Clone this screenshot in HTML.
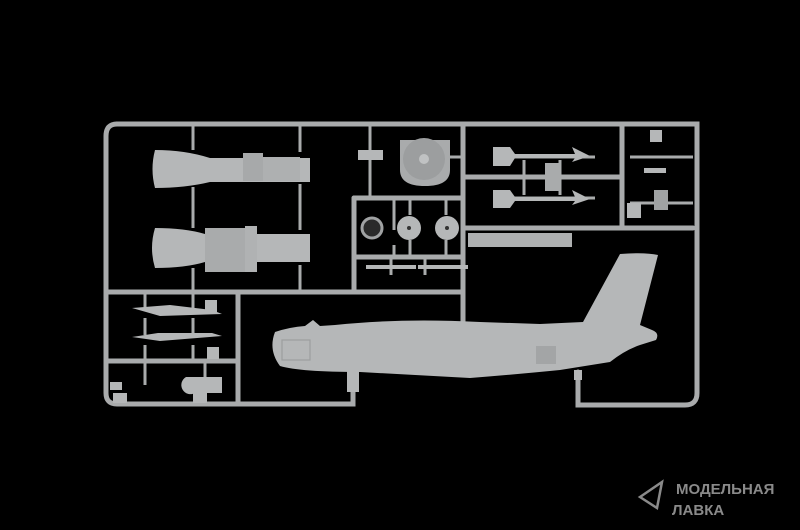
<!DOCTYPE html>
<html><head><style>
html,body{margin:0;padding:0;background:#000;}
svg{display:block}
</style></head><body>
<svg width="800" height="530" viewBox="0 0 800 530" xmlns="http://www.w3.org/2000/svg">
<rect width="800" height="530" fill="#000"/>
<g stroke="#a9abac" stroke-width="5" fill="none" stroke-linecap="round">
<path d="M117 124 H697 V393 Q697 405 685 405 H578 V372"/>
<path d="M117 124 Q106 124 106 136 V393 Q106 404 117 404 H353 V380"/>
<path d="M106 292 H463"/>
<path d="M463 124 V322"/>
<path d="M463 228 H693"/>
<path d="M622 124 V228"/>
<path d="M463 177 H622"/>
<path d="M238 292 V404"/>
<path d="M106 361 H238"/>
<path d="M354 198 V292"/>
<path d="M354 198 H463"/>
<path d="M354 257 H463"/>
</g>
<g stroke="#a9abac" stroke-width="3" fill="none">
<path d="M193 124 V150 M193 187 V228 M193 268 V292"/>
<path d="M300 124 V152 M300 184 V230 M300 265 V292"/>
<path d="M370 124 V150 M370 160 V198"/>
<path d="M394 198 V230 M394 245 V257 M410 198 V215 M410 240 V257 M446 198 V215 M446 240 V257"/>
<path d="M391 257 V275 M425 257 V275"/>
<path d="M145 292 V310 M193 292 V310 M145 318 V335 M193 318 V335 M145 345 V361 M193 345 V361"/>
<path d="M145 361 V385 M205 361 V380"/>
<path d="M512 157 H595 M512 198 H595 M524 160 V195 M560 160 V195"/>
<path d="M630 157 H693 M630 203 H693"/>
<path d="M418 157 H462"/>
</g>
<g fill="#b5b7b8">
<path d="M155 150 Q185 150 210 158 H310 V182 H210 Q185 188 155 188 Q150 169 155 150Z"/>
<rect x="243" y="153" width="20" height="28" fill="#a7a9aa"/>
<rect x="263" y="157" width="37" height="24" fill="#aeb0b1"/>
<path d="M155 228 Q185 228 205 234 H310 V262 H205 Q185 268 155 268 Q149 248 155 228Z"/>
<rect x="205" y="228" width="52" height="44" fill="#a9abac"/>
<rect x="245" y="226" width="12" height="46" fill="#b0b2b3"/>
<path d="M400 140 H450 V170 Q450 186 425 186 Q400 186 400 170Z" fill="#a9abac"/>
<circle cx="424" cy="159" r="21" fill="#9c9e9f"/>
<circle cx="424" cy="159" r="5" fill="#c0c2c3"/>
<rect x="358" y="150" width="25" height="10"/>
<circle cx="372" cy="228" r="10" fill="#2a2a2a" stroke="#a0a2a3" stroke-width="3"/>
<circle cx="409" cy="228" r="12"/>
<circle cx="447" cy="228" r="12"/>
<circle cx="409" cy="228" r="2" fill="#333"/><circle cx="447" cy="228" r="2" fill="#333"/>
<rect x="366" y="265" width="50" height="4"/><rect x="418" y="265" width="50" height="4"/>
<rect x="468" y="233" width="104" height="14" fill="#aeb0b1"/>
<path d="M493 147 H510 L515 154 H575 L572 147 L590 156 L572 162 L575 158 H515 L510 166 H493Z"/>
<path d="M493 190 H510 L515 197 H575 L572 190 L590 199 L572 205 L575 201 H515 L510 208 H493Z"/>
<rect x="545" y="163" width="16" height="28" fill="#a9abac"/>
<rect x="650" y="130" width="12" height="12"/>
<rect x="644" y="168" width="22" height="5"/>
<rect x="654" y="190" width="14" height="20" fill="#a0a2a3"/>
<rect x="627" y="203" width="14" height="15"/>
<path d="M132 308 L170 305 L212 310 L222 314 L160 316 Z"/>
<path d="M132 337 L158 333 L212 333 L222 336 L160 341 Z"/>
<rect x="110" y="382" width="12" height="8"/>
<path d="M186 377 H222 V393 H195 A8 8 0 0 1 186 377Z"/>
<rect x="205" y="300" width="12" height="12"/>
<rect x="207" y="347" width="12" height="12"/>
<rect x="113" y="393" width="14" height="10"/>
<rect x="193" y="393" width="14" height="10"/>
<path d="M275 332 Q290 327 305 326 L313 320 L320 326 L335 325 Q400 318 480 322 L540 324 L583 322 L620 254 Q645 252 658 255 L640 325 L652 330 Q660 333 656 340 L640 345 Q625 350 610 362 L560 370 Q520 374 470 378 L360 372 Q300 372 280 366 Q268 350 275 332Z"/>
<rect x="536" y="346" width="20" height="18" fill="#a3a5a6"/>
<rect x="282" y="340" width="28" height="20" fill="none" stroke="#9c9e9f" stroke-width="1.2"/>
<rect x="347" y="370" width="12" height="22"/>
<rect x="574" y="370" width="8" height="10"/>
</g>
<g fill="none" stroke="#8a8a8a" stroke-width="2.5">
<path d="M640 497 L662 482 L657 508 Z"/>
</g>
<text x="676" y="494" font-family="Liberation Sans, DejaVu Sans, sans-serif" font-weight="bold" font-size="15" fill="#8a8a8a">МОДЕЛЬНАЯ</text>
<text x="672" y="515" font-family="Liberation Sans, DejaVu Sans, sans-serif" font-weight="bold" font-size="15" fill="#8a8a8a">ЛАВКА</text>
</svg>
</body></html>
